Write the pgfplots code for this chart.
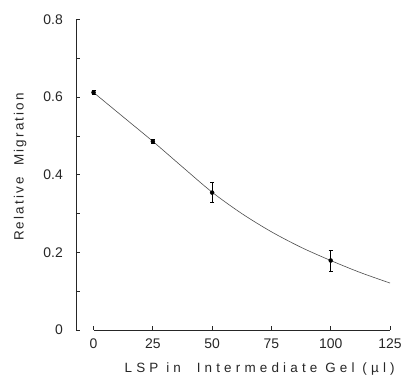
\documentclass[border=0pt]{standalone}
\usepackage{fontspec}
\setmainfont{Liberation Sans}
\newfontfamily\labfontx[LetterSpace=31]{Liberation Sans}
\newfontfamily\labfonty[LetterSpace=16]{Liberation Sans}
\usepackage{pgfplots}
\pgfplotsset{compat=1.18}
\begin{document}
\begin{tikzpicture}
\begin{axis}[name=ax, scale only axis, width=314bp, height=310.5bp,
  xmin=-7.4, xmax=125, ymin=0, ymax=0.8, clip=false,
  axis lines*=left,
  axis line style={-, line width=0.7pt, black!85},
  x axis line style={-, draw=none},
  tick align=inside, tick style={black!85, line width=0.7pt},
  major tick length=4bp, minor tick length=4bp,
  xtick={0,25,50,75,100,125}, xticklabels={0,25,50,75,100,125},
  ytick={0,0.2,0.4,0.6,0.8}, yticklabels={0,0.2,0.4,0.6,0.8},
  minor ytick={0.1,0.3,0.5,0.7},
  /pgf/number format/assume math mode=true,
  ticklabel style={font=\fontsize{14}{16}\selectfont, black!85, inner sep=0pt},
  yticklabel style={anchor=east, xshift=-13bp},
  xticklabel style={anchor=north, yshift=-8.7bp},
  label style={black!85},
  xlabel={LSP in\ \ Intermediate Gel (µl)},
  xlabel style={font=\labfontx\fontsize{13.5}{16}\selectfont, at={(axis description cs:0.585,-0.126)}, anchor=center},
  ylabel={Relative\ \ Migration},
  ylabel style={font=\labfonty\fontsize{13.5}{16}\selectfont, at={(axis description cs:-0.178,0.525)}, anchor=center, rotate=0},
]
\addplot[line width=0.7pt, black!85, no marks] coordinates {(0,0) (125,0)};
\addplot[smooth, line width=0.6pt, black!70, no marks] coordinates {
 (0,0.612) (12.5,0.549) (25,0.486) (37.5,0.42) (50,0.355) (62.5,0.30)
 (75,0.253) (87.5,0.213) (100,0.179) (112.5,0.148) (125,0.121)};
\addplot[only marks, mark=none, black,
  error bars/.cd, y dir=both, y explicit,
  error bar style={line width=0.9pt},
  error mark options={rotate=90, mark size=2bp, line width=0.9pt}]
 coordinates {
 (0,0.612) +- (0,0.005)
 (25,0.486) +- (0,0.005)
 (50,0.354) +- (0,0.025)
 (100,0.179) +- (0,0.027)};
\end{axis}
\pgfresetboundingbox
\path[use as bounding box] ([xshift=-76bp,yshift=-47bp]ax.south west) rectangle ([xshift=11bp,yshift=19.5bp]ax.north east);
\end{tikzpicture}
\end{document}
